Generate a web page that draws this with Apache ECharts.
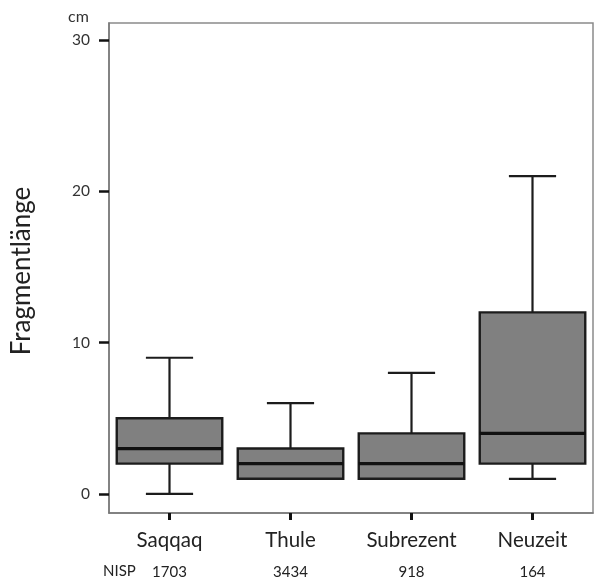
<!DOCTYPE html>
<html>
<head>
<meta charset="utf-8">
<script src="https://cdn.jsdelivr.net/npm/echarts@6/dist/echarts.min.js"></script>
<style>html,body{margin:0;padding:0;background:#fff}#c{width:595px;height:580px}</style>
</head>
<body>
<div id="c"></div>
<script>
const categories = ['Saqqaq', 'Thule', 'Subrezent', 'Neuzeit'];
const mins    = [0, 1, 1, 1];
const q1s     = [2, 1, 1, 2];
const medians = [3, 2, 2, 4];
const q3s     = [5, 3, 4, 12];
const maxs    = [9, 6, 8, 21];
const nisp    = [1703, 3434, 918, 164];
const yTicks  = [0, 10, 20, 30];

const source = categories.map((c, i) => [i, mins[i], q1s[i], medians[i], q3s[i], maxs[i]]);

const FONT = 'Lato';
const STROKE = '#1c1c1c';

function renderItem(params, api) {
  const i = api.value(0);
  const band = api.size([1, 0])[0];
  const bw = band * 0.872;
  const cw = band * 0.39;
  const x = api.coord([i, 0])[0];
  const yLo = api.coord([i, api.value(1)])[1];
  const yQ1 = api.coord([i, api.value(2)])[1];
  const yMed = api.coord([i, api.value(3)])[1];
  const yQ3 = api.coord([i, api.value(4)])[1];
  const yHi = api.coord([i, api.value(5)])[1];
  const lineStyle = { stroke: STROKE, lineWidth: 2.2 };
  const children = [];
  if (yHi < yQ3) {
    children.push({ type: 'line', shape: { x1: x, y1: yQ3, x2: x, y2: yHi }, style: lineStyle });
    children.push({ type: 'line', shape: { x1: x - cw / 2, y1: yHi, x2: x + cw / 2, y2: yHi }, style: lineStyle });
  }
  if (yLo > yQ1) {
    children.push({ type: 'line', shape: { x1: x, y1: yQ1, x2: x, y2: yLo }, style: lineStyle });
    children.push({ type: 'line', shape: { x1: x - cw / 2, y1: yLo, x2: x + cw / 2, y2: yLo }, style: lineStyle });
  }
  children.push({ type: 'rect', shape: { x: x - bw / 2, y: yQ3, width: bw, height: yQ1 - yQ3 },
    style: { fill: '#808080', stroke: STROKE, lineWidth: 2.4 } });
  children.push({ type: 'line', shape: { x1: x - bw / 2, y1: yMed, x2: x + bw / 2, y2: yMed },
    style: { stroke: '#111', lineWidth: 3.2 } });
  return { type: 'group', children };
}

const chart = echarts.init(document.getElementById('c'), null, { renderer: 'canvas' });
chart.setOption({
  animation: false,
  backgroundColor: '#fff',
  grid: { left: 109, right: 2, top: 23, bottom: 67, show: true, borderColor: '#8a8a8a', borderWidth: 1.5, backgroundColor: 'transparent' },
  xAxis: {
    type: 'category',
    data: categories,
    axisLine: { show: true, onZero: false, lineStyle: { color: '#777', width: 1.5 } },
    axisTick: { show: true, alignWithLabel: true, length: 7, lineStyle: { color: '#111', width: 3 } },
    axisLabel: {
      margin: 11,
      formatter: (v, idx) => `{c|${v}}\n{n|${nisp[idx]}}`,
      rich: {
        c: { fontFamily: FONT, fontSize: 20.5, color: '#222', lineHeight: 32 },
        n: { fontFamily: FONT, fontSize: 15, color: '#222', lineHeight: 32 }
      }
    },
    splitLine: { show: false }
  },
  yAxis: {
    type: 'value',
    min: -1.26,
    max: 31.12,
    axisLine: { show: true, lineStyle: { color: '#777', width: 1.5 } },
    axisTick: { show: true, customValues: yTicks, length: 10, lineStyle: { color: '#111', width: 2.5 } },
    axisLabel: { customValues: yTicks, margin: 19, fontFamily: FONT, fontSize: 15.5, color: '#333' },
    splitLine: { show: false }
  },
  graphic: [
    { type: 'text', left: 68, top: 9, style: { text: 'cm', fontFamily: FONT, fontSize: 16, fill: '#333' } },
    { type: 'text', x: 22, y: 271, rotation: Math.PI / 2,
      style: { text: 'Fragmentlänge', fontFamily: FONT, fontSize: 26, fill: '#222', align: 'center', verticalAlign: 'middle' } },
    { type: 'text', x: 103, y: 571, style: { text: 'NISP', fontFamily: FONT, fontSize: 15, fill: '#222', verticalAlign: 'middle' } }
  ],
  dataset: { source },
  series: [{
    type: 'custom',
    renderItem,
    encode: { x: 0, y: [1, 2, 3, 4, 5] },
    clip: false
  }]
});
</script>
</body>
</html>
